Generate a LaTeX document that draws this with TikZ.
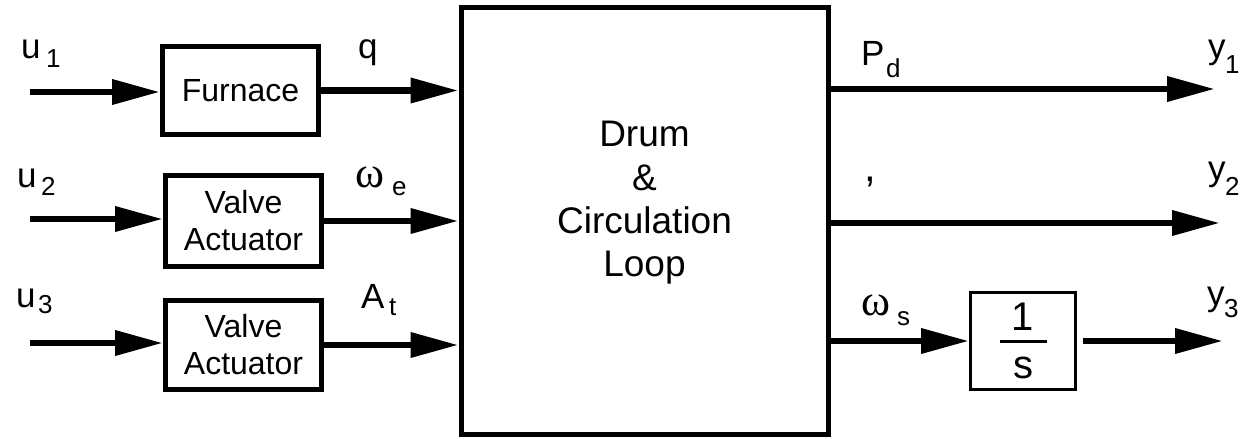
\documentclass[tikz,border=0pt]{standalone}
\usepackage{fontspec}
\setmainfont{Liberation Sans}
\newfontfamily\greekfont{Liberation Serif}
\usetikzlibrary{arrows.meta}
\begin{document}
\begin{tikzpicture}[x=1pt,y=-1pt,
  blk/.style={draw, line width=5pt, inner sep=0pt, align=center},
  thinblk/.style={draw, line width=3pt, inner sep=0pt},
  arr/.style={line width=6.8pt, -{Triangle[length=48pt,width=24pt]}},
  lbl/.style={anchor=base west, inner sep=0pt, font=\fontsize{35}{35}\selectfont},
  greek/.style={anchor=base west, inner sep=0pt, font=\fontsize{44}{44}\selectfont\greekfont},
  sub/.style={anchor=base west, inner sep=0pt, font=\fontsize{26}{26}\selectfont},
  boxfont/.style={font=\fontsize{32}{37}\selectfont}
]
\useasboundingbox (0,0) rectangle (1240,439);

% blocks
\node[blk, boxfont, minimum width=156pt, minimum height=88pt] (furnace) at (240.5,90.5) {Furnace};
\node[blk, boxfont, minimum width=156pt, minimum height=91pt] (valve1) at (243.5,221) {Valve\\Actuator};
\node[blk, boxfont, minimum width=156pt, minimum height=89pt] (valve2) at (243.5,345) {Valve\\Actuator};
\node[blk, minimum width=367pt, minimum height=427pt] (main) at (644.5,221) {};
\node[font=\fontsize{37}{43.3}\selectfont, align=center, inner sep=0pt] (maintxt) at (644.5,203) {Drum\\\&\\Circulation\\Loop};
\node[thinblk, minimum width=105pt, minimum height=97pt] (integ) at (1023,341)
  {\fontsize{40}{40}\selectfont\vbox{\hbox to 47pt{\hfil 1\hfil}\kern 10pt\hrule height 2.3pt\kern 14.5pt\hbox to 47pt{\hfil s\hfil}}};

% free ends
\coordinate (in1) at (30,92);
\coordinate (in2) at (30,219);
\coordinate (in3) at (30,343);
\coordinate (out1) at (1215,89);
\coordinate (out2) at (1220,223);
\coordinate (out3) at (1223,347);

% connectors
\draw[arr] (in1) -- (in1 -| furnace.west);
\draw[arr] (in2) -- (in2 -| valve1.west);
\draw[arr] (in3) -- (in3 -| valve2.west);
\draw[arr] (furnace.east) -- (furnace.east -| main.west);
\draw[arr] (valve1.east) -- (valve1.east -| main.west);
\draw[arr] (valve2.east) -- (valve2.east -| main.west);
\draw[arr] (out1 -| main.east) -- (out1);
\draw[arr] (out2 -| main.east) -- (out2);
\draw[arr] (integ.west -| main.east) -- (integ.west);
\draw[arr] ([xshift=6pt]integ.east) -- (integ.east -| out3);

% labels
\node[lbl] (lu1) at (21,58) {u};   \node[sub] (lu1s) at (46,67) {1};
\node[lbl] (lu2) at (17,187) {u};  \node[sub] (lu2s) at (41,195) {2};
\node[lbl] (lu3) at (16,307) {u};  \node[sub] (lu3s) at (38,313) {3};
\node[lbl] (lq) at (358,58) {q};
\node[greek] (lwe) at (355,187) {ω}; \node[sub] (lwes) at (392,195) {e};
\node[lbl] (lA) at (361,308) {A};  \node[sub] (lAs) at (389,315) {t};
\node[lbl] (lP) at (861,65) {P};   \node[sub] (lPs) at (886,77) {d};
\node[lbl, font=\fontsize{42}{42}\selectfont] (lcomma) at (864,181) {,};
\node[greek] (lws) at (861,315) {ω}; \node[sub] (lwss) at (897,325) {s};
\node[lbl] (ly1) at (1208,58) {y}; \node[sub] (ly1s) at (1225,73) {1};
\node[lbl] (ly2) at (1208,180) {y}; \node[sub] (ly2s) at (1225,195) {2};
\node[lbl] (ly3) at (1207,305) {y}; \node[sub] (ly3s) at (1224,317) {3};
\end{tikzpicture}
\end{document}
